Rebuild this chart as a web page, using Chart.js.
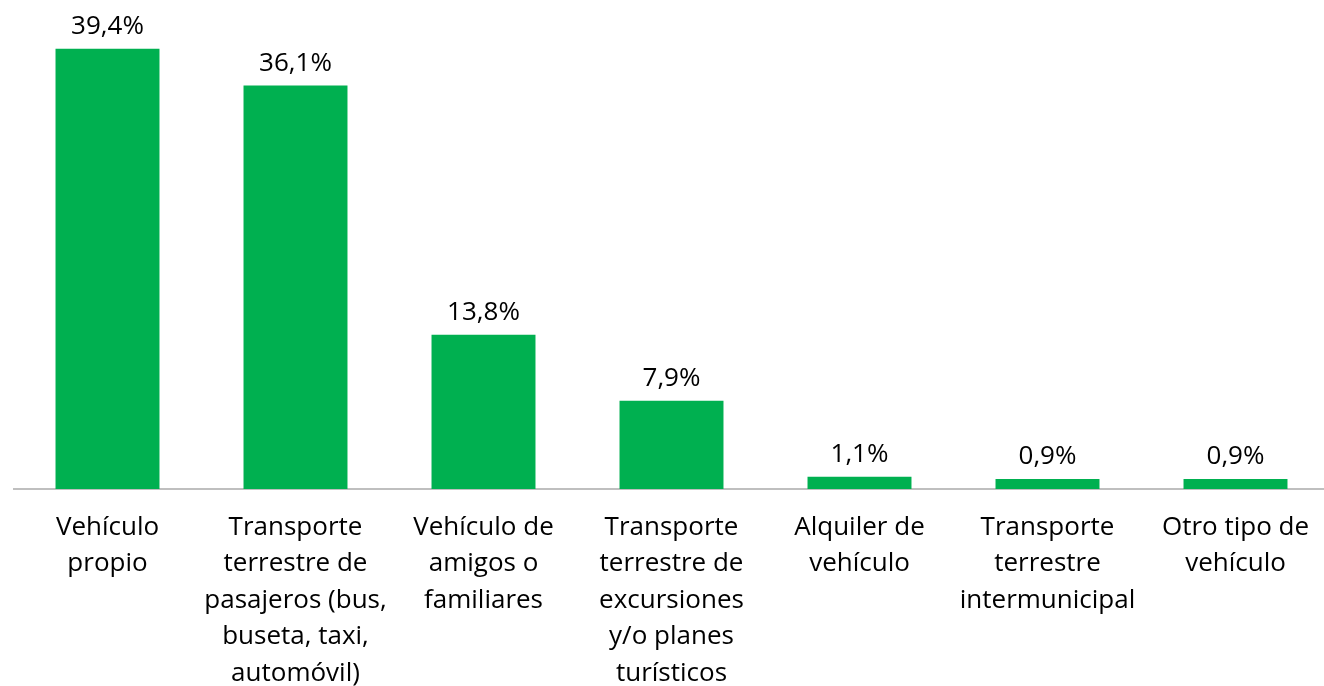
<!DOCTYPE html>
<html>
<head>
<meta charset="utf-8">
<script src="https://cdn.jsdelivr.net/npm/chart.js@4/dist/chart.umd.min.js"></script>
<style>
html,body{margin:0;padding:0;background:#fff;overflow:hidden;}
#wrap{position:relative;width:1344px;height:686px;}
</style>
</head>
<body>
<div id="wrap"><canvas id="c"></canvas></div>
<script>
const categories = [
  ["Vehículo", "propio"],
  ["Transporte", "terrestre de", "pasajeros (bus,", "buseta, taxi,", "automóvil)"],
  ["Vehículo de", "amigos o", "familiares"],
  ["Transporte", "terrestre de", "excursiones", "y/o planes", "turísticos"],
  ["Alquiler de", "vehículo"],
  ["Transporte", "terrestre", "intermunicipal"],
  ["Otro tipo de", "vehículo"]
];
const values = [39.4, 36.1, 13.8, 7.9, 1.1, 0.9, 0.9];
const valueLabels = ["39,4%", "36,1%", "13,8%", "7,9%", "1,1%", "0,9%", "0,9%"];

const FONT = "'Open Sans', sans-serif";

const labelPlugin = {
  id: 'valLabels',
  afterDatasetsDraw(chart) {
    const ctx = chart.ctx;
    const meta = chart.getDatasetMeta(0);
    ctx.save();
    ctx.font = "26px " + FONT;
    ctx.fillStyle = "#000";
    ctx.textAlign = "center";
    ctx.textBaseline = "alphabetic";
    meta.data.forEach((bar, i) => {
      ctx.fillText(valueLabels[i], bar.x, bar.y - 15);
    });
    ctx.restore();
  }
};

new Chart(document.getElementById('c'), {
  type: 'bar',
  data: {
    labels: categories,
    datasets: [{
      data: values,
      backgroundColor: '#00B050',
      borderWidth: 0,
      categoryPercentage: 1,
      barPercentage: 0.553
    }]
  },
  options: {
    responsive: true,
    maintainAspectRatio: false,
    animation: false,
    layout: { padding: { left: 13.5, right: 14.5, top: 42, bottom: 0 } },
    plugins: { legend: { display: false }, tooltip: { enabled: false } },
    scales: {
      x: {
        grid: { display: false, drawTicks: false },
        border: { display: true, color: '#BFBFBF', width: 2 },
        ticks: {
          color: '#000',
          font: { family: FONT, size: 26, lineHeight: 1.404 },
          padding: 20,
          maxRotation: 0,
          autoSkip: false
        },
        afterFit(scale) { scale.height = 197; }
      },
      y: {
        display: false,
        min: 0,
        max: 40
      }
    }
  },
  plugins: [labelPlugin]
});
</script>
</body>
</html>
